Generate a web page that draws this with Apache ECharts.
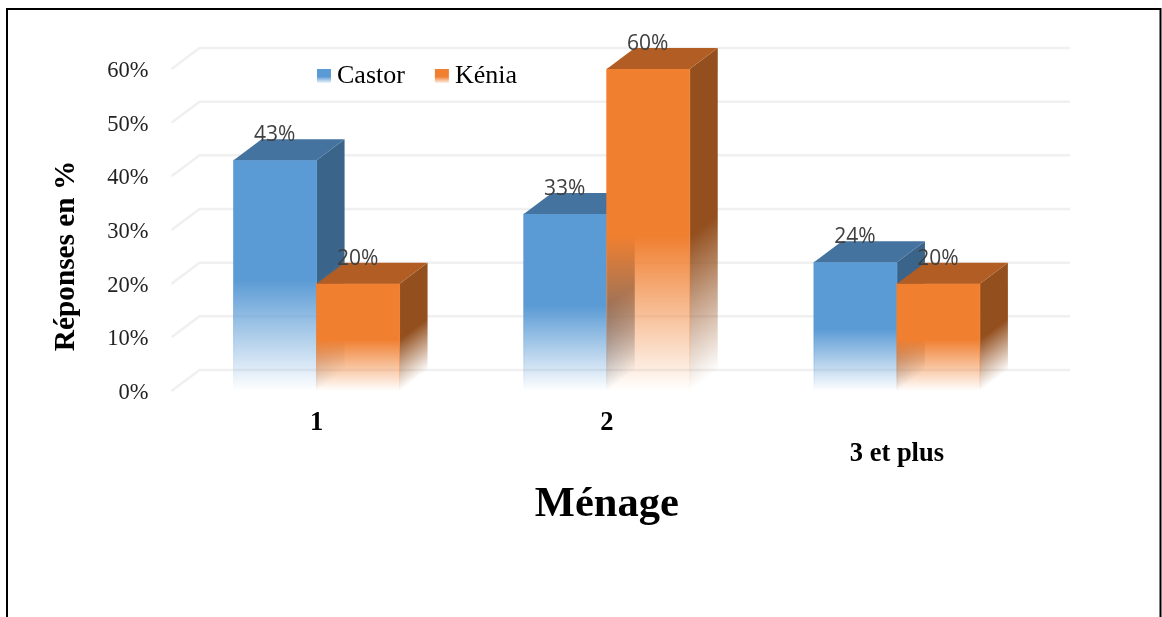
<!DOCTYPE html>
<html>
<head>
<meta charset="utf-8">
<style>html,body{margin:0;padding:0;background:#fff}#chart{width:1162px;height:617px}</style>
<script src="https://cdn.jsdelivr.net/npm/echarts@6/dist/echarts.min.js"></script>
</head>
<body>
<div id="chart"></div>
<script>
// Household-size survey: share of answers per variety
const categories = ['1', '2', '3 et plus'];
const castor = [43, 33, 24];
const kenia = [20, 60, 20];
const yTicks = [0, 10, 20, 30, 40, 50, 60];

// Oblique projection of the 3D columns, in pixels
const DEPTH_X = 28;
const DEPTH_Y = 21;
const BAR_SHARE = 0.286;   // column width as a share of the category band
const FADE_SHARE = 0.48;   // lower part of a column that fades to white
const SERIF = '"Liberation Serif", "Times New Roman", serif';

const fade = (rgb, x0, y0, x1, y1) => ({
  type: 'linear', global: true, x: x0, y: y0, x2: x1, y2: y1,
  colorStops: [
    { offset: 0, color: `rgba(${rgb},1)` },
    { offset: 1, color: `rgba(${rgb},0)` }
  ]
});

function columnRenderer(face, top, side, dir) {
  return function (params, api) {
    const cat = api.value(0);
    const val = api.value(1);
    const base = api.coord([cat, 0]);
    const head = api.coord([cat, val]);
    const w = api.size([1, 0])[0] * BAR_SHARE;
    const x0 = dir < 0 ? base[0] - w : base[0];
    const x1 = x0 + w;
    const yT = head[1];
    const yB = base[1];
    const yF = yB - (yB - yT) * FADE_SHARE;
    const L = yB - yF;
    const sideFill = fade(side, x1, yF, x1 + 0.48 * L, yF + 0.64 * L);
    const faceFill = fade(face, x0, yF, x0, yB);
    return {
      type: 'group',
      children: [
        {
          type: 'polygon',
          shape: { points: [[x1, yT], [x1 + DEPTH_X, yT - DEPTH_Y], [x1 + DEPTH_X, yB - DEPTH_Y], [x1, yB]] },
          style: { fill: sideFill }
        },
        {
          type: 'rect',
          shape: { x: x0, y: yT, width: w, height: yB - yT },
          style: { fill: faceFill, stroke: faceFill, lineWidth: 0.8 }
        },
        {
          type: 'polygon',
          shape: { points: [[x0, yT], [x0 + DEPTH_X, yT - DEPTH_Y], [x1 + DEPTH_X, yT - DEPTH_Y], [x1, yT]] },
          style: { fill: `rgb(${top})` }
        },
        {
          type: 'text',
          z2: 10,
          style: {
            x: x0 + w / 2 - 0.5, y: yT - 25,
            text: val + '%',
            align: 'center', verticalAlign: 'middle',
            fill: '#404040',
            font: '21px "Open Sans", sans-serif'
          }
        }
      ]
    };
  };
}

// Floor-to-wall grid: each tick runs up the side wall, then along the back wall
function gridRenderer(params, api) {
  const p = api.coord([0, api.value(0)]);
  const size = api.size([1, 0])[0];
  const left = p[0] - size / 2;
  const right = left + size * categories.length;
  const y = p[1];
  return {
    type: 'polyline',
    shape: { points: [[left, y], [left + DEPTH_X, y - DEPTH_Y], [right + DEPTH_X, y - DEPTH_Y]] },
    style: { fill: 'none', stroke: '#f0f0f0', lineWidth: 2.5 }
  };
}

const legendSwatch = rgb => ({
  type: 'linear', x: 0, y: 0, x2: 0, y2: 1,
  colorStops: [
    { offset: 0, color: `rgba(${rgb},1)` },
    { offset: 0.55, color: `rgba(${rgb},1)` },
    { offset: 1, color: `rgba(${rgb},0.1)` }
  ]
});

const BLUE = '91,155,213';
const ORANGE = '240,127,48';

const chart = echarts.init(document.getElementById('chart'));
chart.setOption({
  animation: false,
  backgroundColor: '#fff',
  grid: { left: 171.5, right: 120, top: 69, bottom: 226, containLabel: false },
  legend: {
    left: 312, top: 58, icon: 'rect', itemWidth: 14, itemHeight: 14, itemGap: 30,
    selectedMode: false,
    data: ['Castor', 'Kénia'],
    textStyle: { fontFamily: SERIF, fontSize: 26, color: '#000', padding: [0, 0, 0, 1] }
  },
  xAxis: {
    type: 'category',
    data: [categories[0], categories[1], { value: categories[2], textStyle: { padding: [31, 0, 0, 0] } }],
    axisLine: { show: false },
    axisTick: { show: false },
    axisLabel: { fontFamily: SERIF, fontWeight: 'bold', fontSize: 26.5, color: '#000', margin: 19 },
    name: 'Ménage',
    nameLocation: 'middle',
    nameGap: 93,
    nameTextStyle: { fontFamily: SERIF, fontWeight: 'bold', fontSize: 42.5, color: '#000' }
  },
  yAxis: {
    type: 'value',
    min: 0, max: 60, interval: 10,
    splitLine: { show: false },
    axisLine: { show: false },
    axisTick: { show: false },
    axisLabel: {
      formatter: '{tick|{value}%}',
      margin: 23,
      rich: { tick: { fontFamily: SERIF, fontSize: 22.5, color: '#222', padding: [4, 0, 0, 0] } }
    },
    name: 'Réponses en %',
    nameLocation: 'middle',
    nameGap: 91,
    nameRotate: 90,
    nameTextStyle: { fontFamily: SERIF, fontWeight: 'bold', fontSize: 29.3, color: '#000', padding: [0, 52, 0, 0] }
  },
  graphic: [{
    type: 'polyline',
    silent: true,
    shape: { points: [[7, 617], [7, 9], [1160.5, 9], [1160.5, 617]] },
    style: { fill: 'none', stroke: '#000', lineWidth: 2 }
  }],
  series: [
    {
      type: 'custom', silent: true, z: 1,
      renderItem: gridRenderer,
      data: yTicks.map(t => [t]),
      encode: { y: 0 },
      legendHoverLink: false
    },
    {
      name: 'Castor', type: 'custom', silent: true, z: 2,
      itemStyle: { color: legendSwatch(BLUE) },
      renderItem: columnRenderer(BLUE, '69,115,160', '58,100,137', -1),
      data: castor.map((v, i) => [i, v]),
      encode: { x: 0, y: 1 }
    },
    {
      name: 'Kénia', type: 'custom', silent: true, z: 3,
      itemStyle: { color: legendSwatch(ORANGE) },
      renderItem: columnRenderer(ORANGE, '178,93,35', '147,79,30', 1),
      data: kenia.map((v, i) => [i, v]),
      encode: { x: 0, y: 1 }
    }
  ]
});
</script>
</body>
</html>
